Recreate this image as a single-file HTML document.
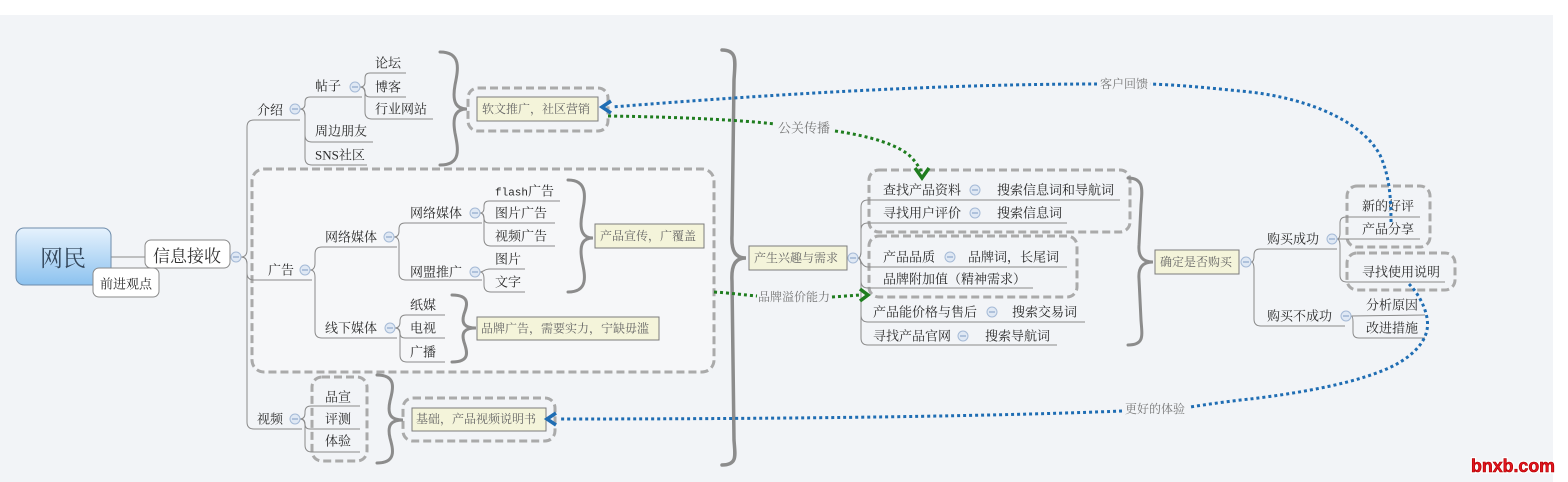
<!DOCTYPE html>
<html><head><meta charset="utf-8">
<style>
html,body{margin:0;padding:0;background:#fff;}
svg{display:block;}
.t{font-family:"Liberation Serif","Noto Serif CJK SC",serif;font-size:13px;fill:#2a2a2a;}
.n{font-family:"Liberation Serif","Noto Serif CJK SC",serif;font-size:12px;fill:#666;}
.lb{font-family:"Liberation Serif","Noto Serif CJK SC",serif;font-size:12px;fill:#777;}
.l{stroke:#8a8a8a;stroke-width:1;fill:none;}
.d{fill:none;stroke:#aaa;stroke-width:3;stroke-dasharray:8 4;}
.b{fill:none;stroke:#8c8c8c;stroke-width:3;stroke-linecap:round;}
.note{fill:#f4f4da;stroke:#7c7c7c;stroke-width:1;}
.c circle{fill:#dfe8f4;stroke:#a5bad6;stroke-width:1;}
.c path{stroke:#7f9cc4;stroke-width:1;}
.bl{fill:none;stroke:#1f6db3;stroke-width:3;stroke-dasharray:3 3;}
.gr{fill:none;stroke:#1f7d1f;stroke-width:3;stroke-dasharray:3 3;}
</style></head>
<body>
<svg width="1568" height="482" viewBox="0 0 1568 482" xmlns="http://www.w3.org/2000/svg">
<defs>
<linearGradient id="g" x1="0" y1="0" x2="0" y2="1">
<stop offset="0" stop-color="#e6f2fd"/><stop offset="1" stop-color="#8cc2ef"/>
</linearGradient>
</defs>
<rect width="1568" height="482" fill="#fff"/>
<rect x="0" y="15" width="1553" height="467" fill="#f2f4f7"/>

<!-- dashed boxes -->
<rect class="d" x="252" y="169" width="462" height="203" rx="12" style="fill:#f6f7f9"/>
<rect class="d" x="468" y="88" width="140" height="43" rx="10"/>
<rect class="d" x="312" y="377" width="55" height="84" rx="10"/>
<rect class="d" x="403" y="398" width="152" height="43" rx="10"/>
<rect class="d" x="869" y="170" width="261" height="62" rx="10"/>
<rect class="d" x="869" y="236" width="208" height="61" rx="10"/>
<rect class="d" x="1347" y="186" width="83" height="61" rx="10"/>
<rect class="d" x="1347" y="253" width="108" height="37" rx="10"/>

<!-- root -->
<line class="l" x1="111" y1="257" x2="146" y2="257"/>
<rect x="16" y="228" width="95" height="57" rx="8" fill="url(#g)" stroke="#6e8cab" stroke-width="1"/>
<text x="63" y="266" text-anchor="middle" style="font-family:'Liberation Serif','Noto Serif CJK SC',serif;font-size:23px;fill:#34475b">网民</text>
<rect x="145" y="240" width="85" height="28" rx="6" fill="#fff" stroke="#8a8a8a"/>
<text x="153" y="262" style="font-family:'Liberation Serif','Noto Serif CJK SC',serif;font-size:17px;fill:#333">信息接收</text>
<rect x="93" y="268" width="66" height="29" rx="6" fill="#fff" stroke="#8a8a8a"/>
<text class="t" x="100" y="288.5">前进观点</text>

<!-- connectors left -->
<path class="l" d="M241,257 Q247,257 247,250 L247,127 Q247,120 254,120 L300,120"/>
<path class="l" d="M241,257 Q247,257 247,264 L247,273 Q247,280 254,280 L312,280"/>
<path class="l" d="M241,257 Q247,257 247,264 L247,422 Q247,429 254,429 L302,429"/>

<path class="l" d="M300,109 Q305,109 305,104 L305,102 Q305,97 310,97 L362,97"/>
<path class="l" d="M300,109 Q305,109 305,116 L305,135 Q305,142 312,142 L373,142"/>
<path class="l" d="M300,109 Q305,109 305,116 L305,158 Q305,165 312,165 L367,165"/>

<path class="l" d="M360,87 Q365,87 365,82 L365,78 Q365,73 370,73 L406,73"/>
<path class="l" d="M360,87 Q365,87 365,92 Q365,97 370,97 L406,97"/>
<path class="l" d="M360,87 Q365,87 365,94 L365,112 Q365,119 372,119 L433,119"/>

<path class="l" d="M310,270 Q315,270 315,263 L315,254 Q315,247 322,247 L397,247"/>
<path class="l" d="M310,270 Q315,270 315,277 L315,331 Q315,338 322,338 L397,338"/>

<path class="l" d="M394,237 Q399,237 399,231 L399,229 Q399,223 405,223 L482,223"/>
<path class="l" d="M394,237 Q399,237 399,244 L399,273 Q399,280 406,280 L482,280"/>

<path class="l" d="M395,328 Q400,328 400,322 L400,321 Q400,315 406,315 L445,315"/>
<path class="l" d="M395,328 Q400,328 400,333 Q400,338 405,338 L445,338"/>
<path class="l" d="M395,328 Q400,328 400,335 L400,355 Q400,362 407,362 L445,362"/>

<path class="l" d="M480,213 Q484,213 484,208 L484,206 Q484,201 489,201 L560,201"/>
<path class="l" d="M480,213 Q484,213 484,218 Q484,223 489,223 L555,223"/>
<path class="l" d="M480,213 Q484,213 484,220 L484,239 Q484,246 491,246 L555,246"/>

<path class="l" d="M480,272 C484,272 484,269 490,269 L525,269"/>
<path class="l" d="M480,272 Q484,272 484,279 L484,285 Q484,292 491,292 L525,292"/>

<path class="l" d="M300,419 Q305,419 305,413 L305,412 Q305,406 311,406 L360,406"/>
<path class="l" d="M300,419 Q305,419 305,424 Q305,429 310,429 L360,429"/>
<path class="l" d="M300,419 Q305,419 305,426 L305,445 Q305,452 312,452 L360,452"/>

<!-- connectors right -->
<path class="l" d="M858,258 Q861,258 861,251 L861,207 Q861,200 868,200 L1120,200"/>
<path class="l" d="M858,258 Q861,258 861,251 L861,230 Q861,223 868,223 L1067,223"/>
<path class="l" d="M858,258 C861,258 861,267 868,267 L1067,267"/>
<path class="l" d="M858,258 Q861,258 861,265 L861,281 Q861,288 868,288 L1033,288"/>
<path class="l" d="M858,258 Q861,258 861,265 L861,315 Q861,322 868,322 L1085,322"/>
<path class="l" d="M858,258 Q861,258 861,265 L861,338 Q861,345 868,345 L1057,345"/>

<path class="l" d="M1251,262 Q1254,262 1254,256 L1254,255 Q1254,249 1260,249 L1337,249"/>
<path class="l" d="M1251,262 Q1254,262 1254,269 L1254,319 Q1254,326 1261,326 L1345,326"/>

<path class="l" d="M1337,239 Q1340,239 1340,233 L1340,223 Q1340,217 1346,217 L1420,217"/>
<path class="l" d="M1337,239 L1420,239"/>
<path class="l" d="M1337,239 Q1340,239 1340,246 L1340,275 Q1340,282 1347,282 L1445,282"/>

<path class="l" d="M1351,316 L1425,315"/>
<path class="l" d="M1351,316 Q1353,316 1353,322 L1353,332 Q1353,338 1359,338 L1425,338"/>

<!-- braces -->
<path class="b" d="M440,52 C462,52 458,70 455,85 C452,102 456,109 467,109 C456,109 452,116 455,133 C458,148 462,165 440,165"/>
<path class="b" d="M568,180 C589,180 585,199 582,214 C579,231 583,238 593,238 C583,238 579,244 582,261 C585,275 589,292 568,292"/>
<path class="b" d="M452,295 C471,295 467,306 464,314 C461,324 465,328 476,328 C465,328 461,332 464,342 C467,351 471,362 452,362"/>
<path class="b" d="M377,375 C397,375 393,389 390,401 C387,415 391,420 403,420 C391,420 387,425 390,438 C393,449 397,463 377,463"/>
<path class="b" style="stroke-width:3.5" d="M722,50 C738,50 735,62 734,80 L732,235 C731,252 736,258 746,258 C736,258 731,264 732,281 L734,440 C735,455 738,465 722,465"/>
<path class="b" d="M1128,178 C1145,178 1142,192 1141,205 L1139,245 C1138,257 1143,262 1153,262 C1143,262 1138,267 1139,279 L1141,320 C1142,335 1145,345 1128,345"/>

<!-- notes -->
<rect class="note" x="477" y="97" width="121" height="24"/>
<text class="n" x="482" y="113">软文推广，社区营销</text>
<rect class="note" x="595" y="224" width="109" height="24"/>
<text class="n" x="600" y="240">产品宣传，广覆盖</text>
<rect class="note" x="477" y="317" width="182" height="23"/>
<text class="n" x="481" y="332.5">品牌广告，需要实力，宁缺毋滥</text>
<rect class="note" x="412" y="408" width="134" height="23"/>
<text class="n" x="416" y="423">基础，产品视频说明书</text>
<rect class="note" x="749" y="246" width="98" height="24"/>
<text class="n" x="754" y="262">产生兴趣与需求</text>
<rect class="note" x="1155" y="250" width="84" height="24"/>
<text class="n" x="1160" y="266">确定是否购买</text>

<!-- topic texts left -->
<text class="t" x="257" y="114.5">介绍</text>
<text class="t" x="315" y="90.5">帖子</text>
<text class="t" x="315" y="135.5">周边朋友</text>
<text class="t" x="315" y="159.5">SNS社区</text>
<text class="t" x="375" y="67.5">论坛</text>
<text class="t" x="375" y="91.5">博客</text>
<text class="t" x="375" y="113.5">行业网站</text>
<text class="t" x="268" y="274.5">广告</text>
<text class="t" x="325" y="241.5">网络媒体</text>
<text class="t" x="325" y="332.5">线下媒体</text>
<text class="t" x="410" y="217.5">网络媒体</text>
<text class="t" x="410" y="276.5">网盟推广</text>
<text class="t" x="495" y="195.5"><tspan style="font-family:'Liberation Mono',monospace;font-size:11px">flash</tspan>广告</text>
<text class="t" x="495" y="217.5">图片广告</text>
<text class="t" x="495" y="240.5">视频广告</text>
<text class="t" x="495" y="263.5">图片</text>
<text class="t" x="495" y="286.5">文字</text>
<text class="t" x="410" y="309.5">纸媒</text>
<text class="t" x="410" y="332.5">电视</text>
<text class="t" x="410" y="356.5">广播</text>
<text class="t" x="257" y="423.5">视频</text>
<text class="t" x="325" y="401.5">品宣</text>
<text class="t" x="325" y="423.5">评测</text>
<text class="t" x="325" y="445.5">体验</text>

<!-- topic texts right -->
<text class="t" x="883" y="194.5">查找产品资料</text>
<text class="t" x="997" y="194.5">搜索信息词和导航词</text>
<text class="t" x="883" y="217.5">寻找用户评价</text>
<text class="t" x="997" y="217.5">搜索信息词</text>
<text class="t" x="883" y="261.5">产品品质</text>
<text class="t" x="968" y="261.5">品牌词，长尾词</text>
<text class="t" x="883" y="283.5">品牌附加值（精神需求）</text>
<text class="t" x="873" y="316.5">产品能价格与售后</text>
<text class="t" x="1012" y="316.5">搜索交易词</text>
<text class="t" x="873" y="340.5">寻找产品官网</text>
<text class="t" x="985" y="340.5">搜索导航词</text>
<text class="t" x="1267" y="243.5">购买成功</text>
<text class="t" x="1267" y="320.5">购买不成功</text>
<text class="t" x="1362" y="210.5">新的好评</text>
<text class="t" x="1362" y="233.5">产品分享</text>
<text class="t" x="1362" y="276.5">寻找使用说明</text>
<text class="t" x="1366" y="309.5">分析原因</text>
<text class="t" x="1366" y="332.5">改进措施</text>

<!-- collapse circles -->
<g class="c">
<circle cx="236" cy="257" r="5"/><path d="M233,257h6"/>
<circle cx="295" cy="109" r="5"/><path d="M292,109h6"/>
<circle cx="355" cy="87" r="5"/><path d="M352,87h6"/>
<circle cx="305" cy="270" r="5"/><path d="M302,270h6"/>
<circle cx="389" cy="237" r="5"/><path d="M386,237h6"/>
<circle cx="390" cy="328" r="5"/><path d="M387,328h6"/>
<circle cx="475" cy="213" r="5"/><path d="M472,213h6"/>
<circle cx="475" cy="272" r="5"/><path d="M472,272h6"/>
<circle cx="295" cy="419" r="5"/><path d="M292,419h6"/>
<circle cx="853" cy="258" r="5"/><path d="M850,258h6"/>
<circle cx="975" cy="190" r="5"/><path d="M972,190h6"/>
<circle cx="975" cy="213" r="5"/><path d="M972,213h6"/>
<circle cx="950" cy="257" r="5"/><path d="M947,257h6"/>
<circle cx="992" cy="312" r="5"/><path d="M989,312h6"/>
<circle cx="963" cy="336" r="5"/><path d="M960,336h6"/>
<circle cx="1246" cy="262" r="5"/><path d="M1243,262h6"/>
<circle cx="1332" cy="239" r="5"/><path d="M1329,239h6"/>
<circle cx="1346" cy="316" r="5"/><path d="M1343,316h6"/>
</g>

<!-- dotted relationship lines -->
<path class="bl" d="M1391,222 C1391,195 1389,175 1380,155 C1360,118 1300,96 1240,91 C1210,88 1180,85 1150,84"/>
<path class="bl" d="M1097,84 C1000,84 850,88 612,107"/>
<polyline points="611,101 602,107 611,113" fill="none" stroke="#1f6db3" stroke-width="3.5"/>
<text class="lb" x="1100" y="88">客户回馈</text>

<path class="gr" d="M608,116 C680,117 740,120 775,124"/>
<path class="gr" d="M835,131 C870,136 900,145 912,158 C918,165 921,170 922,174"/>
<polyline points="915,168 922,178 929,168" fill="none" stroke="#1f7d1f" stroke-width="3.5"/>
<text class="lb" x="778" y="132.5" style="font-size:13px">公关传播</text>

<path class="gr" d="M714,292 C730,293 745,295 757,296"/>
<path class="gr" d="M832,297 L860,295"/>
<polyline points="860,289 868,295 860,301" fill="none" stroke="#1f7d1f" stroke-width="3.5"/>
<text class="lb" x="758" y="301">品牌溢价能力</text>

<path class="bl" d="M1409,284 C1420,295 1430,315 1427,330 C1424,345 1410,357 1395,365 C1360,383 1300,393 1250,399 C1230,401 1210,404 1190,407"/>
<path class="bl" d="M1122,411 C1000,416 800,419 559,419"/>
<polyline points="556,413 547,419 556,425" fill="none" stroke="#1f6db3" stroke-width="3.5"/>
<text class="lb" x="1125" y="413">更好的体验</text>

<!-- watermark -->
<text x="1471" y="472" textLength="84" lengthAdjust="spacingAndGlyphs" style="font-family:'Liberation Sans',sans-serif;font-weight:bold;font-size:18px;fill:#e3161f;stroke:#fff;stroke-width:3;paint-order:stroke">bnxb.com</text>
<text x="1471" y="472" textLength="84" lengthAdjust="spacingAndGlyphs" style="font-family:'Liberation Sans',sans-serif;font-weight:bold;font-size:18px;fill:#e3161f;stroke:#a00;stroke-width:0.6">bnxb.com</text>
</svg>
</body></html>
